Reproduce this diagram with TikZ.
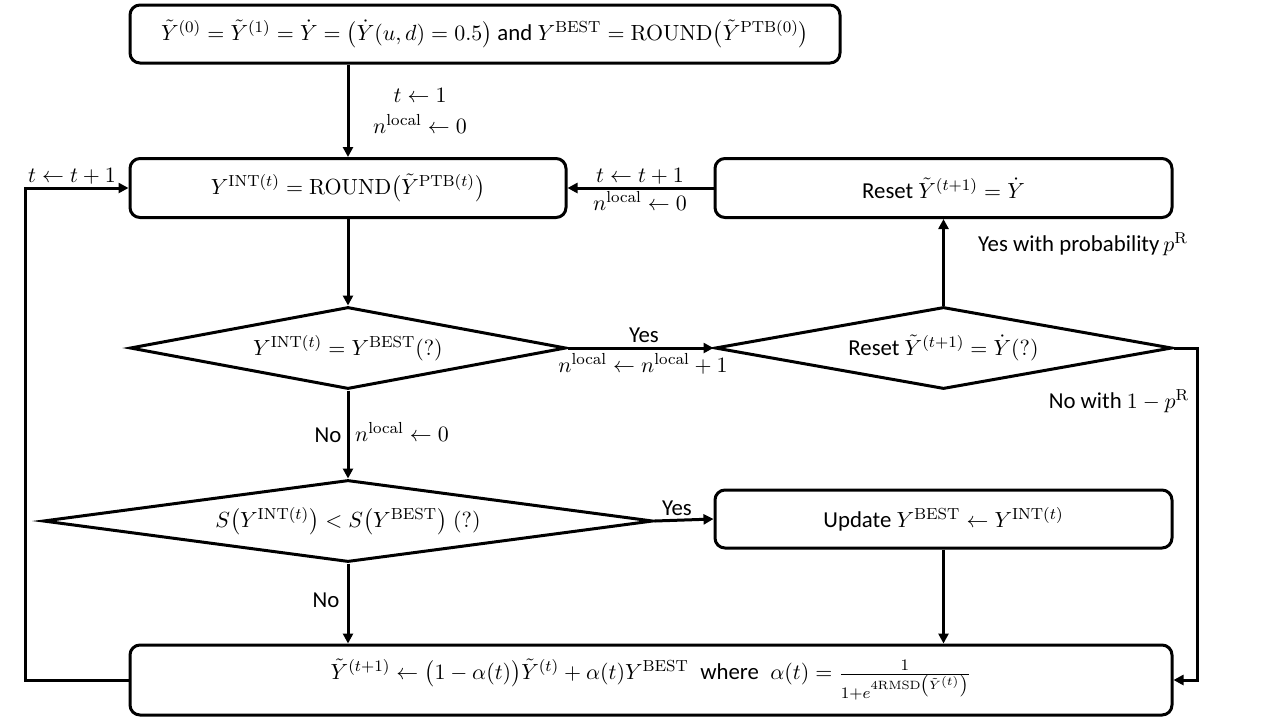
\documentclass[tikz,border=0pt]{standalone}
\usepackage{amsmath}
\usepackage[no-math]{fontspec}
\setmainfont{Carlito}
\usetikzlibrary{shapes.geometric,arrows.meta}
\begin{document}
\begin{tikzpicture}[x=0.5pt,y=-0.5pt,line width=1.5pt,
  every node/.style={font=\fontsize{11.4}{13.5}\selectfont},
  box/.style={draw,rounded corners=5pt,inner sep=2pt},
  dec/.style={draw,diamond,aspect=5,inner sep=0pt},
  arr/.style={-{Triangle[length=5pt,width=5pt]}},
  lbl/.style={inner sep=1pt}]
\useasboundingbox (0,0) rectangle (1280,720);
% nodes
\node[box,minimum width=355pt,minimum height=29pt] (top) at (485,34)
  {$\tilde{Y}^{(0)}=\tilde{Y}^{(1)}=\dot{Y}=\bigl(\dot{Y}(u,d)=0.5\bigr)$ and $Y^{\mathrm{BEST}}=\mathrm{ROUND}\bigl(\tilde{Y}^{\mathrm{PTB}(0)}\bigr)$};
\node[box,minimum width=218pt,minimum height=29.5pt] (int) at (348,188)
  {$Y^{\mathrm{INT}(t)}=\mathrm{ROUND}\bigl(\tilde{Y}^{\mathrm{PTB}(t)}\bigr)$};
\node[box,minimum width=228.5pt,minimum height=29.5pt] (reset) at (943.5,188)
  {Reset $\tilde{Y}^{(t+1)}=\dot{Y}$};
\node[dec,minimum width=218pt,minimum height=41pt] (d1) at (348,348)
  {$Y^{\mathrm{INT}(t)}=Y^{\mathrm{BEST}}(?)$};
\node[dec,minimum width=228.5pt,minimum height=41pt] (d2) at (943.5,348)
  {Reset $\tilde{Y}^{(t+1)}=\dot{Y}(?)$};
\node[dec,minimum width=305pt,minimum height=41pt] (d3) at (348,521)
  {$S\bigl(Y^{\mathrm{INT}(t)}\bigr)<S\bigl(Y^{\mathrm{BEST}}\bigr)\;(?)$};
\node[box,minimum width=228.5pt,minimum height=29pt] (upd) at (943.5,519)
  {Update $Y^{\mathrm{BEST}}\leftarrow Y^{\mathrm{INT}(t)}$};
\node[box,minimum width=521pt,minimum height=35pt] (bot) at (651,680)
  {$\tilde{Y}^{(t+1)}\leftarrow\bigl(1-\alpha(t)\bigr)\tilde{Y}^{(t)}+\alpha(t)Y^{\mathrm{BEST}}$\enspace where\enspace$\alpha(t)=\frac{1}{1+e^{4\mathrm{RMSD}\left(\tilde{Y}^{(t)}\right)}}$};
\coordinate (lx) at (25,0);
\coordinate (rx) at (1197,0);
% connectors
\draw[arr] (top.south -| int.north) -- (int.north);
\draw[arr] (reset.west) -- (int.east);
\draw[arr] (int.south) -- (d1.north);
\draw[arr] (d1.east) -- (d2.west);
\draw[arr] (d2.north) -- (reset.south);
\draw[arr] (d1.south) -- (d3.north);
\draw[arr] (d3.east) -- (upd.west);
\draw[arr] (upd.south) -- (upd.south |- bot.north);
\draw[arr] (d3.south) -- (d3.south |- bot.north);
\draw[arr] (d2.east) -- (d2.east -| rx) |- (bot.east);
\draw[arr] (bot.west) -- (bot.west -| lx) |- (int.west);
% labels
\node[lbl] (l1) at (420,95) {$t\leftarrow 1$};
\node[lbl] (l2) at (420,124) {$n^{\mathrm{local}}\leftarrow 0$};
\node[lbl] (l3) at (72,176) {$t\leftarrow t+1$};
\node[lbl] (l4) at (640,176) {$t\leftarrow t+1$};
\node[lbl] (l5) at (640,201) {$n^{\mathrm{local}}\leftarrow 0$};
\node[lbl] (l6) at (1083,244) {Yes with probability\,$p^{\mathrm{R}}$};
\node[lbl] (l7) at (644,335) {Yes};
\node[lbl] (l8) at (643,364) {$n^{\mathrm{local}}\leftarrow n^{\mathrm{local}}+1$};
\node[lbl] (l9) at (1119,401) {No with $1-p^{\mathrm{R}}$};
\node[lbl] (l10) at (328,435) {No};
\node[lbl] (l11) at (402,432) {$n^{\mathrm{local}}\leftarrow 0$};
\node[lbl] (l12) at (677,508) {Yes};
\node[lbl] (l13) at (326,600) {No};
\end{tikzpicture}
\end{document}
